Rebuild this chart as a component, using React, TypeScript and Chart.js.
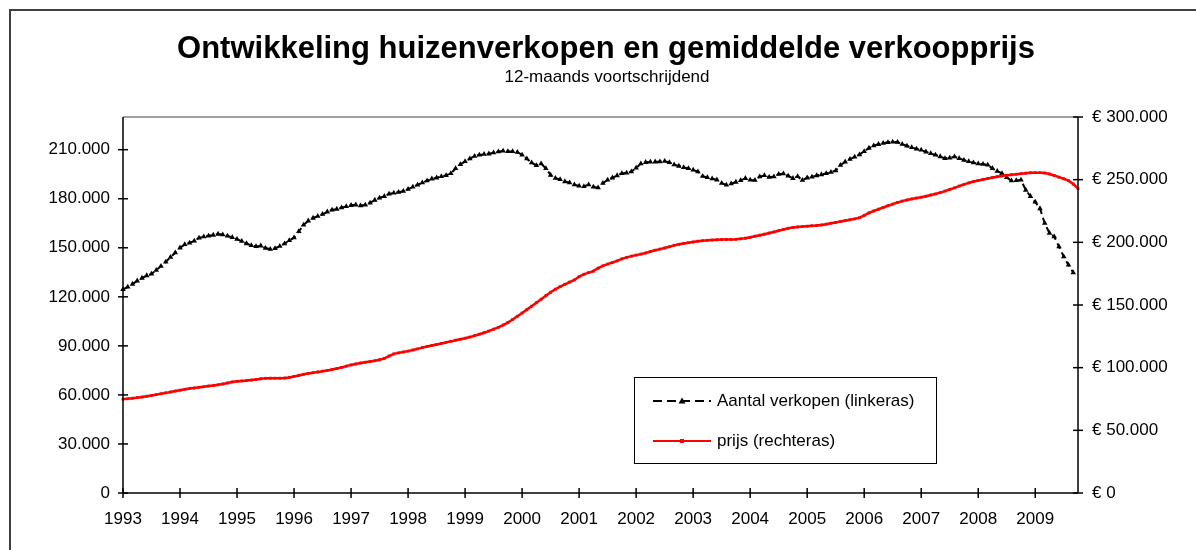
import { useEffect, useRef } from 'react';
import { Chart, registerables } from 'chart.js';

Chart.register(...registerables);

// Year tick labels along the bottom axis (one per January)
const YEARS = ['1993', '1994', '1995', '1996', '1997', '1998', '1999', '2000', '2001', '2002', '2003', '2004', '2005', '2006', '2007', '2008', '2009'];
const MONTHS = ['jan', 'feb', 'mrt', 'apr', 'mei', 'jun', 'jul', 'aug', 'sep', 'okt', 'nov', 'dec'];

// Tick values for the two value axes
const LEFT_TICKS = [0, 30000, 60000, 90000, 120000, 150000, 180000, 210000];
const RIGHT_TICKS = [0, 50000, 100000, 150000, 200000, 250000, 300000];

// Number of house sales, 12-month rolling total (left axis)
const salesCount = [
  124600, 126000, 127800, 129800, 131500, 133000, 134000, 136300, 138800, 141400, 144200, 147000,
  150000, 152000, 153000, 154200, 156000, 156800, 157300, 157800, 158400, 158000, 157200, 156400,
  155300, 154000, 152600, 151500, 150800, 151200, 149800, 149200, 149600, 151000, 152500, 154500,
  156200, 160000, 164000, 166500, 168200, 169300, 170500, 172000, 173200, 173700, 174500, 175300,
  176000, 176300, 175800, 176200, 177500, 179200, 180500, 181500, 183000, 183600, 184000, 184600,
  185800, 187200, 188500, 189800, 191000, 192200, 192800, 193600, 194300, 195500, 198500, 201000,
  202800, 204500, 206000, 206800, 207200, 207500, 208200, 208800, 209200, 209000, 208900, 208500,
  206800, 204500, 202000, 200400, 201500, 198500, 194500, 192600, 191800, 190500, 189800, 188600,
  187800, 187500, 188600, 187200, 186800, 189500, 191500, 192800, 194200, 195500, 195800, 196600,
  198800, 201500, 202300, 202500, 202600, 202700, 203000, 202200, 200800, 200000, 199200, 198500,
  197600, 196600, 193800, 193000, 192300, 191600, 189500, 188400, 189200, 190200, 191200, 192500,
  191500, 191300, 193500, 194300, 193200, 193500, 195000, 195300, 194000, 192500, 193600, 191400,
  192800, 193400, 194200, 194800, 195500, 196300, 197200, 200500, 202600, 204200, 205600, 207000,
  209000, 211000, 212400, 213300, 214000, 214500, 214800, 214600, 213400, 212300, 211400, 210500,
  209800, 208700, 207700, 206800, 205800, 204700, 205000, 205700, 204700, 203600, 202800, 202000,
  201400, 201200, 200700, 198500, 196800, 195500, 193000, 191000, 191200, 191500, 185300, 181500,
  178000, 174000, 165000, 159000, 156800, 150700, 144600, 139500, 134800,
];

// Average selling price in euro, 12-month rolling (right axis)
const avgPrice = [
  74900, 75200, 75600, 76100, 76600, 77200, 77800, 78500, 79200, 79900, 80600, 81300,
  82000, 82700, 83300, 83800, 84300, 84800, 85300, 85700, 86300, 87000, 87800, 88600,
  89100, 89400, 89700, 90100, 90600, 91100, 91500, 91600, 91600, 91600, 91700, 92200,
  93000, 93800, 94700, 95400, 96000, 96600, 97200, 97800, 98500, 99300, 100200, 101200,
  102200, 103000, 103700, 104300, 104900, 105500, 106300, 107400, 109300, 111000, 111800, 112500,
  113200, 114100, 115000, 116000, 116900, 117700, 118500, 119300, 120200, 121000, 121900, 122700,
  123500, 124400, 125500, 126700, 127900, 129200, 130700, 132200, 134000, 136000, 138400, 141000,
  143600, 146300, 149000, 151800, 154600, 157400, 160200, 162600, 164600, 166500, 168300, 170000,
  172600, 174500, 175800, 177000, 179400, 181200, 182600, 183900, 185200, 186800, 188000, 189000,
  189800, 190600, 191500, 192700, 193700, 194600, 195500, 196500, 197600, 198400, 199100, 199700,
  200300, 200900, 201300, 201600, 201800, 202000, 202200, 202300, 202300, 202400, 202800, 203300,
  204000, 204900, 205700, 206500, 207400, 208300, 209300, 210300, 211200, 211800, 212300, 212600,
  212900, 213200, 213500, 213900, 214500, 215200, 215900, 216600, 217300, 218000, 218700, 219600,
  221500, 223500, 225000, 226400, 227800, 229200, 230500, 231800, 232900, 233800, 234600, 235300,
  236000, 236800, 237700, 238600, 239700, 240900, 242200, 243500, 244900, 246200, 247400, 248500,
  249400, 250200, 250900, 251700, 252400, 253000, 253500, 253900, 254300, 254800, 255200, 255500,
  255600, 255600, 255300, 254500, 253300, 252000, 250700, 249200, 246500, 243000,
];

const TITLE = 'Ontwikkeling huizenverkopen en gemiddelde verkoopprijs';
const SUBTITLE = '12-maands voortschrijdend';
const SALES_LABEL = 'Aantal verkopen (linkeras)';
const PRICE_LABEL = 'prijs (rechteras)';

const FONT = '"Liberation Sans", Arial, sans-serif';
const TICK_SIZE = 17;

const W = 1196;
const H = 550;

const monthLabels = YEARS.flatMap((y) => MONTHS.map((m) => `${m} ${y}`)).slice(0, avgPrice.length);

const thousands = (n: number) => String(Math.round(n)).replace(/\B(?=(\d{3})+(?!\d))/g, '.');

// Frame, titles, axis lines with crossing tick marks and the boxed legend
const decorations = {
  id: 'decorations',
  beforeDraw(chart: any) {
    const { ctx } = chart;
    ctx.save();
    ctx.fillStyle = '#fff';
    ctx.fillRect(0, 0, W, H);
    ctx.strokeStyle = '#404040';
    ctx.lineWidth = 2;
    ctx.beginPath();
    ctx.moveTo(10, H);
    ctx.lineTo(10, 10);
    ctx.lineTo(W, 10);
    ctx.stroke();

    ctx.fillStyle = '#000';
    ctx.textAlign = 'center';
    ctx.textBaseline = 'alphabetic';
    ctx.font = `bold 31px ${FONT}`;
    ctx.fillText(TITLE, 606, 58);
    ctx.font = `${TICK_SIZE}px ${FONT}`;
    ctx.fillText(SUBTITLE, 607, 82);

    const ca = chart.chartArea;
    ctx.strokeStyle = '#808080';
    ctx.lineWidth = 1.5;
    ctx.beginPath();
    ctx.moveTo(ca.left, ca.top);
    ctx.lineTo(ca.right, ca.top);
    ctx.stroke();
    ctx.restore();
  },
  afterDraw(chart: any) {
    const { ctx, scales } = chart;
    const ca = chart.chartArea;
    ctx.save();
    ctx.strokeStyle = '#000';
    ctx.lineWidth = 1.5;
    const seg = (x1: number, y1: number, x2: number, y2: number) => {
      ctx.beginPath();
      ctx.moveTo(x1, y1);
      ctx.lineTo(x2, y2);
      ctx.stroke();
    };
    seg(ca.left, ca.top, ca.left, ca.bottom);
    seg(ca.right, ca.top, ca.right, ca.bottom);
    seg(ca.left, ca.bottom, ca.right, ca.bottom);
    scales.y.ticks.forEach((t: any) => {
      const py = scales.y.getPixelForValue(t.value);
      seg(ca.left - 5, py, ca.left + 5, py);
    });
    scales.y1.ticks.forEach((t: any) => {
      const py = scales.y1.getPixelForValue(t.value);
      seg(ca.right - 5, py, ca.right + 5, py);
    });
    for (let i = 0; i < monthLabels.length; i += 12) {
      const px = scales.x.getPixelForValue(i);
      seg(px, ca.bottom - 5, px, ca.bottom + 5);
    }

    // legend
    const bx = 634, by = 377, bw = 302, bh = 86;
    ctx.fillStyle = '#fff';
    ctx.fillRect(bx, by, bw, bh);
    ctx.strokeStyle = '#000';
    ctx.lineWidth = 1;
    ctx.strokeRect(bx + 0.5, by + 0.5, bw, bh);

    const x1 = 653, x2 = 711, xm = 682;
    const r1 = 401, r2 = 441;
    ctx.strokeStyle = '#000';
    ctx.lineWidth = 2;
    ctx.setLineDash([9, 5]);
    seg(x1, r1, x2, r1);
    ctx.setLineDash([]);
    ctx.fillStyle = '#000';
    ctx.beginPath();
    ctx.moveTo(xm, r1 - 3.5);
    ctx.lineTo(xm + 3.5, r1 + 2.5);
    ctx.lineTo(xm - 3.5, r1 + 2.5);
    ctx.closePath();
    ctx.fill();

    ctx.strokeStyle = '#ff0000';
    seg(x1, r2, x2, r2);
    ctx.fillStyle = '#ff0000';
    ctx.fillRect(xm - 2, r2 - 2, 4, 4);

    ctx.fillStyle = '#000';
    ctx.font = `${TICK_SIZE}px ${FONT}`;
    ctx.textAlign = 'left';
    ctx.textBaseline = 'middle';
    ctx.fillText(SALES_LABEL, 717, r1);
    ctx.fillText(PRICE_LABEL, 717, r2);
    ctx.restore();
  },
};

export default function App() {
  const canvasRef = useRef<HTMLCanvasElement | null>(null);

  useEffect(() => {
    const canvas = canvasRef.current;
    if (!canvas) return;
    const tickFont = { family: FONT, size: TICK_SIZE };
    const chart = new Chart(canvas, {
      type: 'line',
      data: {
        labels: monthLabels,
        datasets: [
          {
            label: PRICE_LABEL,
            data: avgPrice,
            yAxisID: 'y1',
            borderColor: '#ff0000',
            backgroundColor: '#ff0000',
            borderWidth: 2.5,
            pointStyle: 'rect',
            pointRadius: 2,
            pointBorderWidth: 0,
            pointBackgroundColor: '#ff0000',
            tension: 0,
            clip: false,
          },
          {
            label: SALES_LABEL,
            data: salesCount,
            yAxisID: 'y',
            borderColor: '#000',
            backgroundColor: '#000',
            borderWidth: 2,
            borderDash: [6, 4],
            pointStyle: 'triangle',
            pointRadius: 3.2,
            pointBorderWidth: 0,
            pointBackgroundColor: '#000',
            tension: 0,
            clip: false,
          },
        ],
      },
      options: {
        animation: false,
        responsive: false,
        devicePixelRatio: 1,
        layout: { padding: { top: 117, left: 0, right: 0, bottom: 0 } },
        plugins: {
          legend: { display: false },
          title: { display: false },
          tooltip: { enabled: false },
        },
        scales: {
          x: {
            type: 'category',
            offset: false,
            grid: { display: false, drawTicks: false },
            border: { display: false },
            ticks: {
              autoSkip: false,
              maxRotation: 0,
              minRotation: 0,
              padding: 16,
              color: '#000',
              font: tickFont,
              callback: (_v: any, idx: number) => (idx % 12 === 0 ? YEARS[idx / 12] : null),
            },
            afterFit: (scale: any) => {
              scale.height = 57;
            },
          },
          y: {
            position: 'left',
            min: 0,
            max: 230000,
            grid: { display: false, drawTicks: false },
            border: { display: false },
            ticks: {
              padding: 13,
              color: '#000',
              font: tickFont,
              callback: (v: any) => thousands(Number(v)),
            },
            afterBuildTicks: (scale: any) => {
              scale.ticks = LEFT_TICKS.map((value) => ({ value }));
            },
            afterFit: (scale: any) => {
              scale.width = 123;
            },
          },
          y1: {
            position: 'right',
            min: 0,
            max: 300000,
            grid: { display: false, drawTicks: false },
            border: { display: false },
            ticks: {
              padding: 14,
              color: '#000',
              font: tickFont,
              callback: (v: any) => `€ ${thousands(Number(v))}`,
            },
            afterBuildTicks: (scale: any) => {
              scale.ticks = RIGHT_TICKS.map((value) => ({ value }));
            },
            afterFit: (scale: any) => {
              scale.width = 118;
            },
          },
        },
      },
      plugins: [decorations],
    });
    return () => chart.destroy();
  }, []);

  return (
    <div style={{ position: 'fixed', left: 0, top: 0, width: W, height: H, background: '#fff' }}>
      <canvas ref={canvasRef} width={W} height={H} style={{ display: 'block', width: W, height: H }} />
    </div>
  );
}
